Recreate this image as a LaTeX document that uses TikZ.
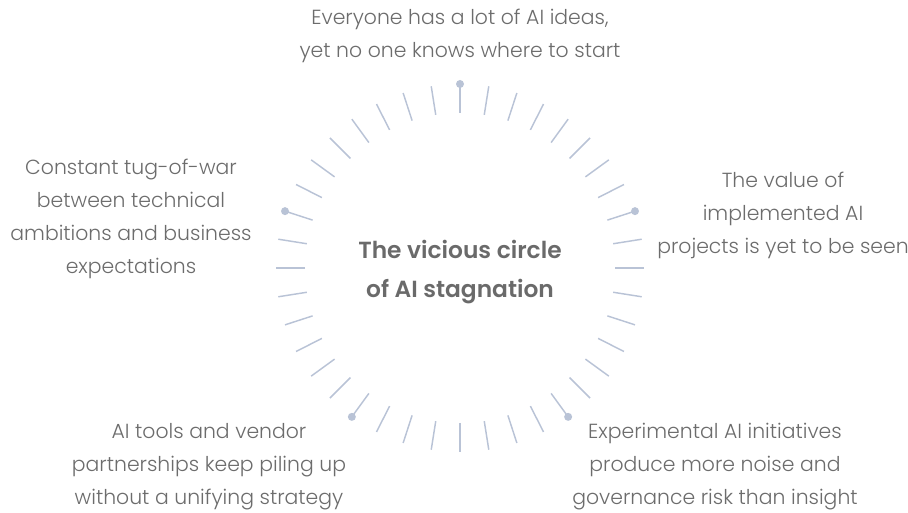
\documentclass[tikz,border=0pt]{standalone}
\usepackage{fontspec}
\usetikzlibrary{calc}
\setmainfont{Poppins Light}[BoldFont={Poppins SemiBold}]
\definecolor{tick}{HTML}{B9C3D6}
\definecolor{txt}{HTML}{6C6C6C}
\definecolor{ttl}{HTML}{6A6A6A}
\tikzset{
  label/.style={align=center, text=txt, inner sep=0pt, font=\fontsize{15.3}{24.75}\selectfont},
  title/.style={align=center, text=ttl, inner sep=0pt, font=\bfseries\fontsize{17.5}{29.25}\selectfont},
  tickline/.style={draw=tick, line width=1.1pt},
  tickdot/.style={fill=tick, draw=none}
}
\begin{document}
\begin{tikzpicture}[x=0.75pt, y=-0.75pt]
\path[use as bounding box] (0,0) rectangle (908,513);
\coordinate (c) at (460,268);
\foreach \i in {0,...,39}{
  \pgfmathsetmacro{\a}{-(90+9*\i)}
  \draw[tickline] ($(c)+(\a:155)$) -- ($(c)+(\a:184)$);
}
\foreach \i in {0,8,16,24,32}{
  \pgfmathsetmacro{\a}{-(90+9*\i)}
  \fill[tickdot] ($(c)+(\a:184)$) circle[radius=3pt];
}
\node[title] (center) at (460,272.5) {The vicious circle\\of AI stagnation};
\node[label] (top) at (460,36) {Everyone has a lot of AI ideas,\\yet no one knows where to start};
\node[label] (right) at (783,215) {The value of\\implemented AI\\projects is yet to be seen};
\node[label] (left) at (131,219) {Constant tug-of-war\\between technical\\ambitions and business\\expectations};
\node[label] (bl) at (209,467) {AI tools and vendor\\partnerships keep piling up\\without a unifying strategy};
\node[label] (br) at (715,467) {Experimental AI initiatives\\produce more noise and\\governance risk than insight};
\end{tikzpicture}
\end{document}
